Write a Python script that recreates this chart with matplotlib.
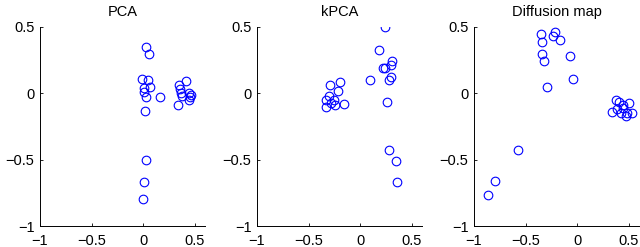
import matplotlib
matplotlib.use("Agg")
import matplotlib.pyplot as plt

plt.rcParams['font.family'] = ['Liberation Sans', 'DejaVu Sans']

titles = ['PCA', 'kPCA', 'Diffusion map']

# PCA embedding
pca_x = [0.03, 0.06, -0.01, 0.045, 0.07, 0.01, 0.01, 0.025, 0.16, 0.02, 0.03, 0.01, 0.0,
         0.35, 0.42, 0.36, 0.38, 0.34, 0.44, 0.45, 0.44, 0.46, 0.37]
pca_y = [0.35, 0.30, 0.11, 0.10, 0.045, 0.04, 0.01, -0.03, -0.03, -0.13, -0.50, -0.67, -0.80,
         0.06, 0.09, 0.03, -0.02, -0.085, 0.0, -0.03, -0.05, -0.01, 0.0]

# kPCA embedding
kpca_x = [0.245, 0.18, 0.22, 0.24, 0.305, 0.30, 0.30, 0.28, 0.094, 0.265, 0.28, 0.35, 0.36,
          -0.29, -0.20, -0.21, -0.33, -0.33, -0.30, -0.25, -0.24, -0.16, -0.28]
kpca_y = [0.50, 0.33, 0.19, 0.19, 0.24, 0.21, 0.12, 0.10, 0.10, -0.065, -0.43, -0.51, -0.67,
          0.06, 0.085, 0.02, -0.05, -0.105, -0.02, -0.05, -0.09, -0.08, -0.07]

# diffusion map embedding
dm_x = [-0.35, -0.34, -0.34, -0.32, -0.21, -0.23, -0.17, -0.065, -0.04, -0.29, -0.57, -0.80, -0.86,
        0.38, 0.41, 0.44, 0.50, 0.34, 0.39, 0.43, 0.48, 0.53, 0.44, 0.47]
dm_y = [0.45, 0.385, 0.295, 0.24, 0.465, 0.435, 0.40, 0.285, 0.11, 0.05, -0.43, -0.66, -0.77,
        -0.05, -0.065, -0.085, -0.07, -0.14, -0.12, -0.15, -0.15, -0.15, -0.11, -0.17]

data = [(pca_x, pca_y), (kpca_x, kpca_y), (dm_x, dm_y)]
lefts = [40 / 640, 257 / 640, 474 / 640]
tick_vals = [-1, -0.5, 0, 0.5]
tick_text = ['\u22121', '\u22120.5', '0', '0.5']

fig = plt.figure(figsize=(6.4, 2.47), dpi=100)
for i in range(3):
    ax = fig.add_axes([lefts[i], 21 / 247, 165 / 640, 199 / 247])
    x, y = data[i]
    ax.plot(x, y, 'o', markerfacecolor='none', markeredgecolor='#0000ff',
            markersize=6.2, markeredgewidth=0.8, linestyle='none')
    ax.set_xlim(-1, 0.6)
    ax.set_ylim(-1, 0.5)
    ax.set_xticks(tick_vals)
    ax.set_xticklabels(tick_text)
    ax.set_yticks(tick_vals)
    ax.set_yticklabels(tick_text)
    ax.tick_params(direction='in', labelsize=10.5, length=2, width=0.6)
    ax.tick_params(axis='x', pad=6)
    ax.tick_params(axis='y', pad=4)
    ax.spines['top'].set_visible(False)
    ax.spines['right'].set_visible(False)
    for s in ['left', 'bottom']:
        ax.spines[s].set_linewidth(0.7)
    ax.set_title(titles[i], fontsize=10.5, pad=8)

fig.savefig('out.png', dpi=100)
